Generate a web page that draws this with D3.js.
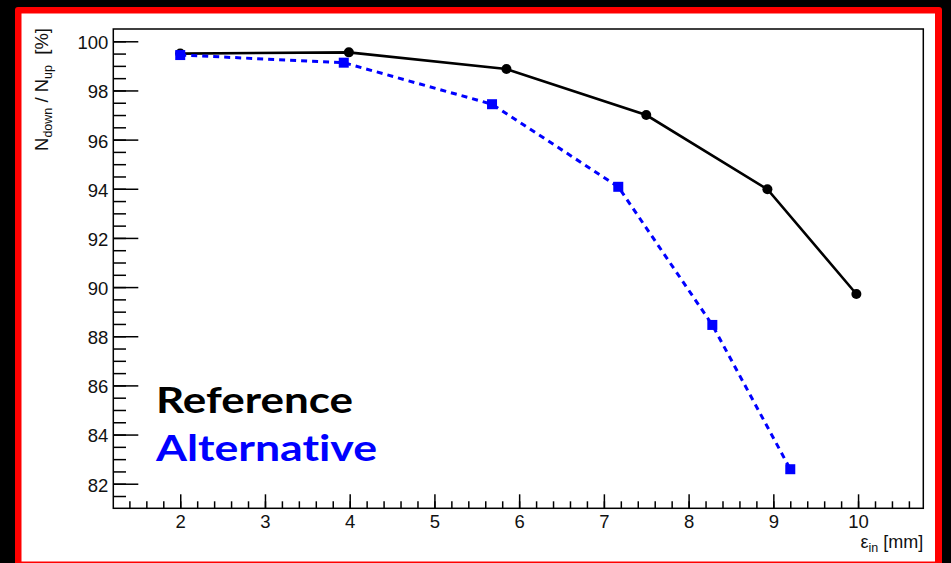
<!DOCTYPE html>
<html>
<head>
<meta charset="utf-8">
<script src="https://cdn.jsdelivr.net/npm/d3@7"></script>
<style>
  html, body { margin: 0; padding: 0; background: #000; }
  svg { display: block; }
  text { font-family: 'Liberation Sans', Arial, sans-serif; }
</style>
</head>
<body>
<div id="chart"></div>
<script>
// data
const refX = [2.0, 3.99, 5.85, 7.5, 8.93, 9.98]
const refY = [99.5, 99.55, 98.87, 97.0, 93.98, 89.72]
const altX = [2.0, 3.93, 5.68, 7.17, 8.28, 9.2]
const altY = [99.44, 99.13, 97.44, 94.08, 88.46, 82.59]
const xTicks = [2, 3, 4, 5, 6, 7, 8, 9, 10]
const yTicks = [82, 84, 86, 88, 90, 92, 94, 96, 98, 100]
const legendLabels = ['Reference', 'Alternative']

const WIDTH = 951
const HEIGHT = 563
const FRAME = { left: 113.3, right: 923.3, top: 29, bottom: 508.3 }
const BLUE = '#0000ff'

const svg = d3.select('#chart')
  .append('svg')
  .attr('width', WIDTH)
  .attr('height', HEIGHT)

// slide background: black, red border, white pad
svg.append('rect').attr('width', WIDTH).attr('height', HEIGHT).attr('fill', '#000')
svg.append('rect')
  .attr('x', 15).attr('y', 7)
  .attr('width', 927).attr('height', 570)
  .attr('rx', 3)
  .attr('fill', '#ff0000')
svg.append('rect')
  .attr('x', 21.5).attr('y', 13.5)
  .attr('width', 913.5).attr('height', 548)
  .attr('fill', '#fff')

const x = d3.scaleLinear().domain([1.21, 10.77]).range([FRAME.left, FRAME.right])
const y = d3.scaleLinear().domain([81, 100.5]).range([FRAME.bottom, FRAME.top])

// minor ticks (drawn first, labels empty)
const xMinor = d3.range(1.4, 10.75, 0.2).map((v) => +v.toFixed(1))
const yMinor = d3.range(81.5, 100.5, 0.5)

svg.append('g')
  .attr('transform', `translate(0,${FRAME.bottom})`)
  .call(d3.axisBottom(x).tickValues(xMinor).tickSize(-7).tickSizeOuter(0).tickFormat(''))
  .call((g) => g.select('.domain').remove())

svg.append('g')
  .attr('transform', `translate(${FRAME.left},0)`)
  .call(d3.axisLeft(y).tickValues(yMinor).tickSize(-12.7).tickSizeOuter(0).tickFormat(''))
  .call((g) => g.select('.domain').remove())

// major ticks with labels
const xAxis = svg.append('g')
  .attr('transform', `translate(0,${FRAME.bottom})`)
  .call(d3.axisBottom(x).tickValues(xTicks).tickSize(-14).tickSizeOuter(0).tickPadding(7).tickFormat(d3.format('d')))
xAxis.select('.domain').remove()

const yAxis = svg.append('g')
  .attr('transform', `translate(${FRAME.left},0)`)
  .call(d3.axisLeft(y).tickValues(yTicks).tickSize(-25).tickSizeOuter(0).tickPadding(5).tickFormat(d3.format('d')))
yAxis.select('.domain').remove()

svg.selectAll('.tick line').attr('stroke', '#000').attr('stroke-width', 1.5)
svg.selectAll('.tick text')
  .attr('fill', '#111')
  .style('font-family', "'Liberation Sans', Arial, sans-serif")
  .style('font-size', '18.5px')
yAxis.selectAll('.tick text').attr('dy', '0.4em')

// frame
svg.append('rect')
  .attr('x', FRAME.left).attr('y', FRAME.top)
  .attr('width', FRAME.right - FRAME.left)
  .attr('height', FRAME.bottom - FRAME.top)
  .attr('fill', 'none')
  .attr('stroke', '#000')
  .attr('stroke-width', 1.5)

// axis titles
const yTitle = svg.append('text')
  .attr('transform', `translate(48,28) rotate(-90)`)
  .attr('text-anchor', 'end')
  .attr('fill', '#111')
  .style('font-size', '18.5px')
  .style('white-space', 'pre')
yTitle.append('tspan').text('N')
yTitle.append('tspan').attr('dy', 4).style('font-size', '12.5px').text('down')
yTitle.append('tspan').attr('dy', -4).text(' / N')
yTitle.append('tspan').attr('dy', 4).style('font-size', '12.5px').text('up')
yTitle.append('tspan').attr('dy', -4).text('  [%]')

const xTitle = svg.append('text')
  .attr('x', FRAME.right)
  .attr('y', 548)
  .attr('text-anchor', 'end')
  .attr('fill', '#111')
  .style('font-size', '18px')
  .style('white-space', 'pre')
xTitle.append('tspan').text('ε')
xTitle.append('tspan').attr('dy', 4).style('font-size', '12.5px').text('in')
xTitle.append('tspan').attr('dy', -4).text(' [mm]')

// series
const line = d3.line().x((d) => x(d[0])).y((d) => y(d[1]))
const refData = d3.zip(refX, refY)
const altData = d3.zip(altX, altY)

svg.append('path')
  .datum(refData)
  .attr('d', line)
  .attr('fill', 'none')
  .attr('stroke', '#000')
  .attr('stroke-width', 2.6)

svg.append('g')
  .selectAll('circle')
  .data(refData)
  .enter()
  .append('circle')
  .attr('cx', (d) => x(d[0]))
  .attr('cy', (d) => y(d[1]))
  .attr('r', 5)
  .attr('fill', '#000')

svg.append('path')
  .datum(altData)
  .attr('d', line)
  .attr('fill', 'none')
  .attr('stroke', BLUE)
  .attr('stroke-width', 3)
  .attr('stroke-dasharray', '6,5')

const SQ = 10
svg.append('g')
  .selectAll('rect')
  .data(altData)
  .enter()
  .append('rect')
  .attr('x', (d) => x(d[0]) - SQ / 2)
  .attr('y', (d) => y(d[1]) - SQ / 2)
  .attr('width', SQ)
  .attr('height', SQ)
  .attr('fill', BLUE)

// legend text
svg.append('g')
  .selectAll('text')
  .data(legendLabels)
  .enter()
  .append('text')
  .attr('x', 156)
  .attr('y', (d, i) => 413 + i * 48)
  .attr('fill', (d, i) => (i === 0 ? '#000' : BLUE))
  .attr('textLength', (d, i) => (i === 0 ? 197 : 221))
  .attr('lengthAdjust', 'spacingAndGlyphs')
  .style('font-family', "Lato, 'Open Sans', sans-serif")
  .style('font-weight', 700)
  .style('font-size', '37px')
  .style('font-variant-ligatures', 'none')
  .text((d) => d)
</script>
</body>
</html>
